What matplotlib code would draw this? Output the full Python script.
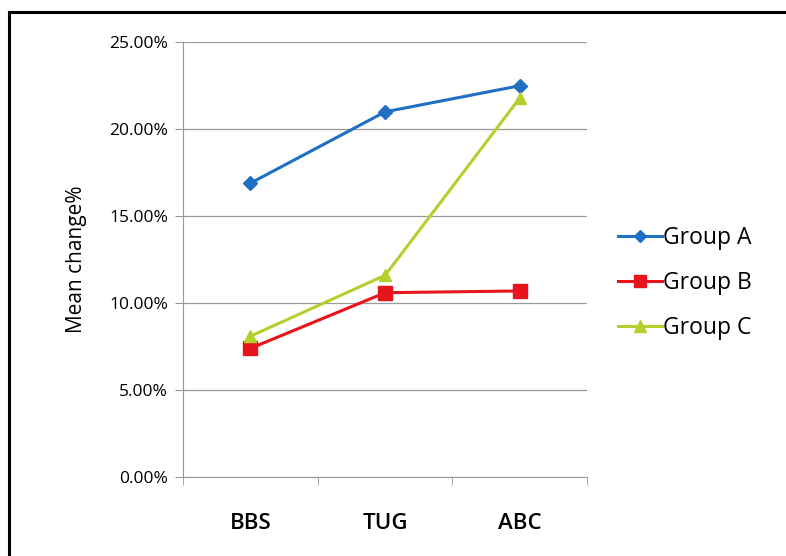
import matplotlib.pyplot as plt
from matplotlib.ticker import FuncFormatter, FixedLocator
from matplotlib.lines import Line2D

categories = ['BBS', 'TUG', 'ABC']
group_a = [16.9, 21.0, 22.5]
group_b = [7.4, 10.6, 10.7]
group_c = [8.1, 11.6, 21.8]
y_ticks = [0, 5, 10, 15, 20, 25]

plt.rcParams['font.family'] = ['Open Sans', 'DejaVu Sans']

fig = plt.figure(figsize=(7.86, 5.56), dpi=100)
ax = fig.add_axes([0.233, 0.142, 0.514, 0.782])

x = list(range(len(categories)))
ax.plot(x, group_a, color='#1f6fc4', marker='D', markersize=7, lw=2.2, label='Group A')
ax.plot(x, group_b, color='#e8141c', marker='s', markersize=10, lw=2.2, label='Group B')
ax.plot(x, group_c, color='#b4d02c', marker='^', markersize=9, lw=2.2, label='Group C')

ax.set_xlim(-0.5, 2.5)
ax.set_ylim(0, 25)
ax.set_yticks(y_ticks)
ax.yaxis.set_major_formatter(FuncFormatter(lambda v, p: f'{v:.2f}%'))
ax.yaxis.grid(True, color='#9a9a9a', lw=0.9)
ax.set_axisbelow(True)

ax.set_xticks(x)
ax.set_xticklabels(categories, fontsize=16, fontweight='semibold')
ax.tick_params(axis='x', which='major', length=0, pad=26)
ax.xaxis.set_minor_locator(FixedLocator([-0.5, 0.5, 1.5, 2.5]))
ax.tick_params(axis='x', which='minor', length=6, color='#999999', direction='out')
ax.tick_params(axis='y', length=6, color='#999999', labelsize=12.5, pad=5)

for s in ['top', 'right']:
    ax.spines[s].set_visible(False)
ax.spines['left'].set_color('#999999')
ax.spines['bottom'].set_color('#999999')

ax.set_ylabel('Mean change%', fontsize=15, labelpad=16)

handles = [
    Line2D([], [], color='#1f6fc4', marker='D', markersize=6, lw=2.2),
    Line2D([], [], color='#e8141c', marker='s', markersize=9, lw=2.2),
    Line2D([], [], color='#b4d02c', marker='^', markersize=8, lw=2.2),
]
fig.legend(handles, ['Group A', 'Group B', 'Group C'], loc='upper left',
           bbox_to_anchor=(0.76, 0.63), frameon=False, fontsize=16.5,
           handlelength=1.9, handletextpad=0.05, labelspacing=0.9)

# outer frame (only left and top edges visible in the original)
fig.add_artist(Line2D([0.011, 0.011], [0.0, 0.979], color='black', lw=2.2))
fig.add_artist(Line2D([0.011, 1.0], [0.979, 0.979], color='black', lw=2.2))

fig.savefig('out.png', dpi=100)
